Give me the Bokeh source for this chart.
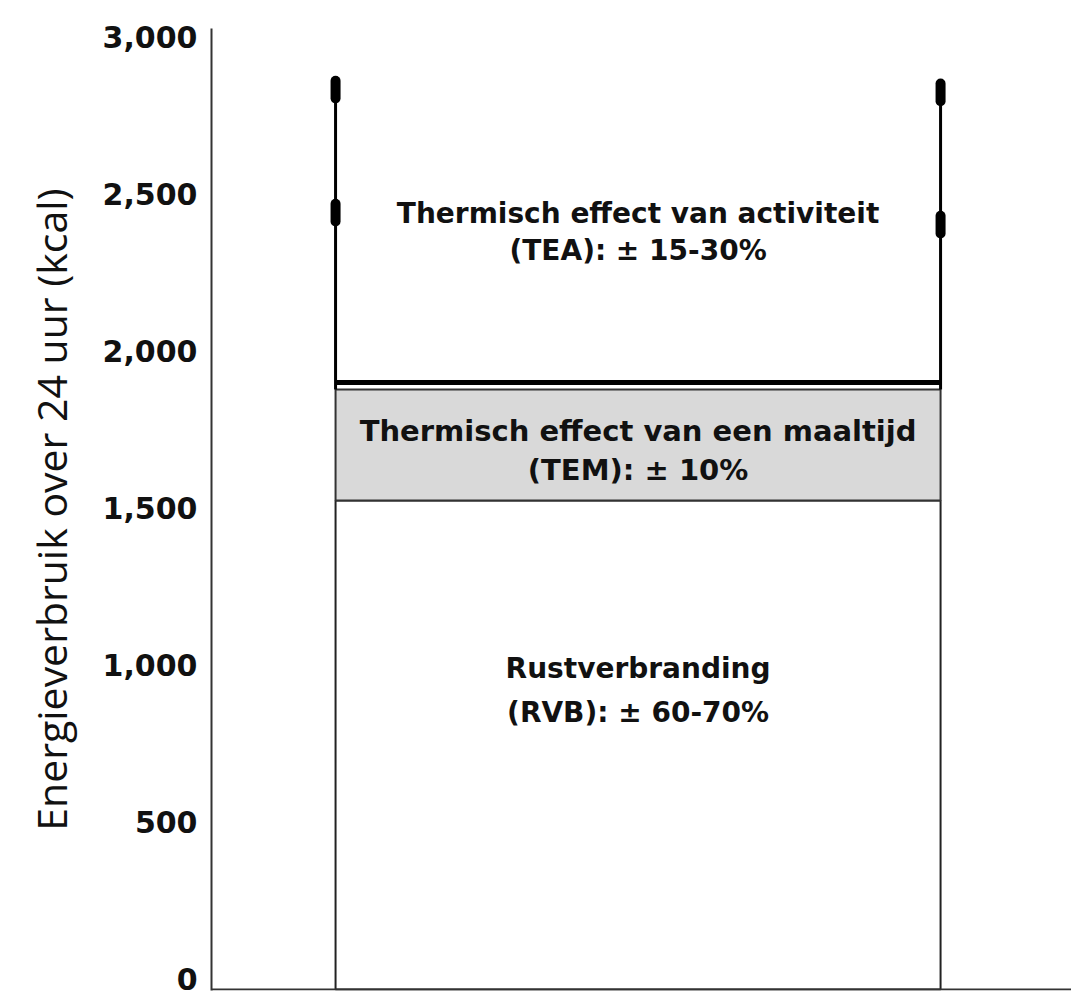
from bokeh.plotting import figure
from bokeh.models import Range1d, Span, FixedTicker, NumeralTickFormatter, Title
from bokeh.core.properties import value
from bokeh.embed import file_html
from bokeh.resources import INLINE

# ---- data (kcal over 24 h) ----
components = ["RVB", "TEM", "TEA"]
rvb_top = 1522          # rest metabolism (Rustverbranding) top
tem_top = 1876          # thermic effect of a meal top
tea_base = 1898         # base of activity bracket
tea_low = [2439, 2401]  # lower marks on left / right whisker
tea_high = [2831, 2822] # upper marks on left / right whisker
y_ticks = [0, 500, 1000, 1500, 2000, 2500, 3000]

label_lines = [
    ("Thermisch effect van activiteit", "(TEA): \u00b1 15-30%"),
    ("Thermisch effect van een maaltijd", "(TEM): \u00b1 10%"),
    ("Rustverbranding", "(RVB): \u00b1 60-70%"),
]
y_title = "Energieverbruik over 24 uur (kcal)"

# ---- layout constants ----
Y_START, Y_END = -38.2, 3025.5
AXIS_Y = -35            # where the bottom axis line sits
BAR_C, BAR_W = 0.496, 0.7035
xl, xr = BAR_C - BAR_W / 2, BAR_C + BAR_W / 2

p = figure(width=1071, height=996, output_backend="svg", toolbar_location=None,
           x_range=Range1d(0, 1), y_range=Range1d(Y_START, Y_END),
           min_border_left=211, min_border_right=0, min_border_top=28, min_border_bottom=6)
p.outline_line_color = None
p.grid.visible = False
p.xaxis.visible = False
p.background_fill_color = "white"
p.border_fill_color = "white"

# y axis
ya = p.yaxis[0]
ya.ticker = FixedTicker(ticks=y_ticks)
ya.formatter = NumeralTickFormatter(format="0,0")
ya.major_tick_line_color = None
ya.minor_tick_line_color = None
ya.major_label_standoff = 8
ya.major_label_text_font = "DejaVu Sans"
ya.major_label_text_font_style = "bold"
ya.major_label_text_font_size = "30px"
ya.major_label_text_color = "#111111"
ya.axis_line_color = "#333333"
ya.axis_line_width = 2

# y title as a left-side title (slightly below centre, like the reference)
p.add_layout(Title(text=y_title, align="center", offset=-19, standoff=40,
                   vertical_align="middle",
                   text_font="Open Sans", text_font_style="normal",
                   text_font_size="41px", text_color="#111111"), "left")

# bottom axis line
p.add_layout(Span(location=AXIS_Y, dimension="width", line_color="#333333", line_width=2))

# RVB box
p.quad(left=[xl], right=[xr], bottom=[AXIS_Y], top=[rvb_top], fill_color="white",
       line_color="#222222", line_width=2)
# TEM box
p.quad(left=[xl], right=[xr], bottom=[rvb_top], top=[tem_top], fill_color="#d9d9d9",
       line_color="#333333", line_width=2)

# TEA bracket: thick base line and whiskers
p.segment(x0=[xl], y0=[tea_base], x1=[xr], y1=[tea_base], line_color="black", line_width=5)
p.segment(x0=[xl, xr], y0=[tem_top, tem_top], x1=[xl, xr], y1=tea_high,
          line_color="black", line_width=3)
CAP = 28
caps_x = [xl, xr, xl, xr]
caps_y = tea_low + tea_high
p.segment(x0=caps_x, y0=[v - CAP for v in caps_y], x1=caps_x, y1=[v + CAP for v in caps_y],
          line_color="black", line_width=10, line_cap="round")

# labels
label_y = [(2436, 2318), (1745, 1618), (987, 847)]
sizes = ["28px", "29px", "28px"]
for (l1, l2), (y1, y2), sz in zip(label_lines, label_y, sizes):
    p.text(x=[BAR_C, BAR_C], y=[y1, y2], text=[l1, l2], text_align="center",
           text_baseline="middle", text_font=value("DejaVu Sans"), text_font_style="bold",
           text_font_size=sz, text_color="#111111")

open("out.html", "w").write(file_html(p, INLINE))
